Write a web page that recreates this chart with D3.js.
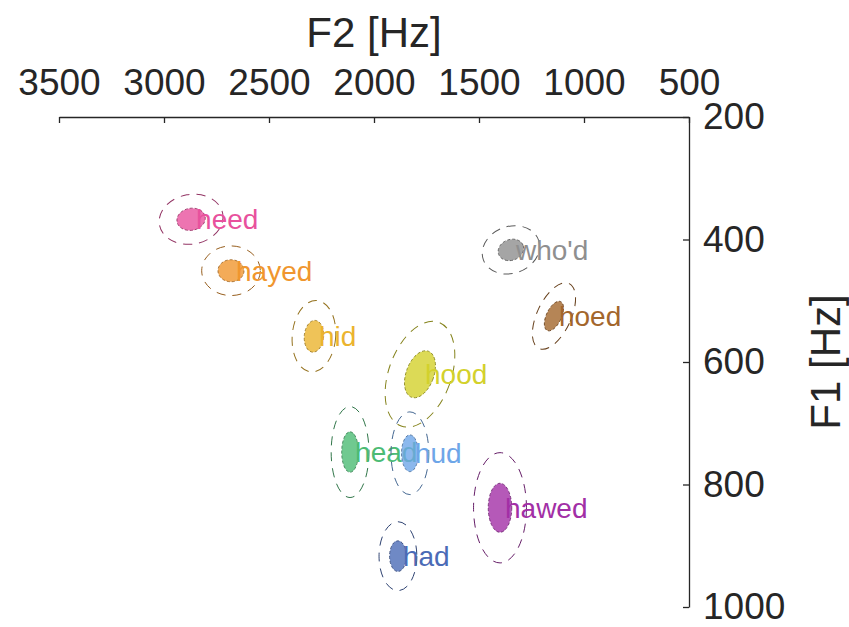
<!DOCTYPE html>
<html>
<head>
<meta charset="utf-8">
<script src="https://cdn.jsdelivr.net/npm/d3@7"></script>
<style>
  body { margin: 0; background: #fff; }
  svg text { font-family: "Liberation Sans", Arial, sans-serif; }
</style>
</head>
<body>
<svg id="vowels"></svg>
<script>
const width = 849
const height = 627

// vowel means (Hz), spreads (Hz), tilt (deg)
const vowels = ["heed", "hayed", "hid", "hood", "head", "hud", "had", "hawed", "who'd", "hoed"]
const f2Mean = [2871, 2681, 2286, 1781, 2114, 1829, 1886, 1400, 1348, 1143]
const f1Mean = [367, 451, 558, 620, 747, 749, 917, 838, 417, 525]
const f2Sd = [68, 62, 46, 66, 40, 40, 40, 56, 62, 36]
const f1Sd = [18, 18, 26, 40, 33, 30, 25, 40, 17, 26]
const tilt = [-10, 0, 5, 20, 0, 0, 0, 0, -20, 25]
const colours = ["#e8519d", "#f0962e", "#ebb42e", "#d3d12c", "#4cbb74", "#6ea6e8", "#4b6bb6", "#a22fa6", "#8f8f8f", "#a3662c"]

const f2Ticks = [3500, 3000, 2500, 2000, 1500, 1000, 500]
const f1Ticks = [200, 400, 600, 800, 1000]

const margin = { top: 117, right: 160, bottom: 20, left: 59 }

const x = d3.scaleLinear().domain([3500, 500]).range([margin.left, width - margin.right])
const y = d3.scaleLinear().domain([200, 1000]).range([margin.top, height - margin.bottom])
const pxPerHzX = Math.abs(x(1) - x(0))
const pxPerHzY = Math.abs(y(1) - y(0))

const svg = d3.select("#vowels")
    .attr("width", width)
    .attr("height", height)

svg.append("rect").attr("width", width).attr("height", height).attr("fill", "#fff")

const data = vowels.map((v, i) => ({
    label: v, f2: f2Mean[i], f1: f1Mean[i],
    sx: f2Sd[i], sy: f1Sd[i], angle: tilt[i], colour: colours[i]
}))

const groups = svg.append("g")
    .classed("vowels", true)
    .selectAll("g")
    .data(data)
    .join("g")
    .attr("transform", d => `translate(${x(d.f2)},${y(d.f1)})`)

// outer dashed ellipse
groups.append("ellipse")
    .attr("rx", d => 2.25 * d.sx * pxPerHzX)
    .attr("ry", d => 2.25 * d.sy * pxPerHzY)
    .attr("transform", d => `rotate(${d.angle})`)
    .attr("fill", "none")
    .attr("stroke", d => d3.color(d.colour).darker(1.3))
    .attr("stroke-width", 1)
    .attr("stroke-dasharray", "9,7")

// inner filled ellipse
groups.append("ellipse")
    .attr("rx", d => d.sx * pxPerHzX)
    .attr("ry", d => d.sy * pxPerHzY)
    .attr("transform", d => `rotate(${d.angle})`)
    .attr("fill", d => d.colour)
    .attr("fill-opacity", 0.8)
    .attr("stroke", d => d3.color(d.colour).darker(1.3))
    .attr("stroke-width", 0.8)
    .attr("stroke-dasharray", "3,2")

groups.append("text")
    .attr("x", 5)
    .attr("dy", "0.36em")
    .attr("fill", d => d.colour)
    .attr("font-size", 28)
    .text(d => d.label)

// axes
const axisColour = "#262626"

const topAxis = svg.append("g")
    .attr("transform", `translate(0,${margin.top})`)
    .call(d3.axisTop(x).tickValues(f2Ticks).tickFormat(d3.format("d"))
        .tickSizeInner(-6).tickSizeOuter(0).tickPadding(22))

const rightAxis = svg.append("g")
    .attr("transform", `translate(${x(500)},0)`)
    .call(d3.axisRight(y).tickValues(f1Ticks).tickFormat(d3.format("d"))
        .tickSizeInner(-6).tickSizeOuter(0).tickPadding(14))

for (const ax of [topAxis, rightAxis]) {
    ax.select(".domain").attr("stroke", axisColour).attr("stroke-width", 1.3)
    ax.selectAll(".tick line").attr("stroke", axisColour).attr("stroke-width", 1.3)
    ax.selectAll(".tick text")
        .attr("fill", axisColour)
        .attr("font-size", 37)
        .attr("font-family", "Liberation Sans, Arial, sans-serif")
}

svg.append("text")
    .attr("x", x(2000))
    .attr("y", 47)
    .attr("text-anchor", "middle")
    .attr("fill", axisColour)
    .attr("font-size", 42)
    .text("F2 [Hz]")

svg.append("text")
    .attr("transform", `translate(840,${y(600)}) rotate(-90)`)
    .attr("text-anchor", "middle")
    .attr("fill", axisColour)
    .attr("font-size", 42)
    .text("F1 [Hz]")
</script>
</body>
</html>
